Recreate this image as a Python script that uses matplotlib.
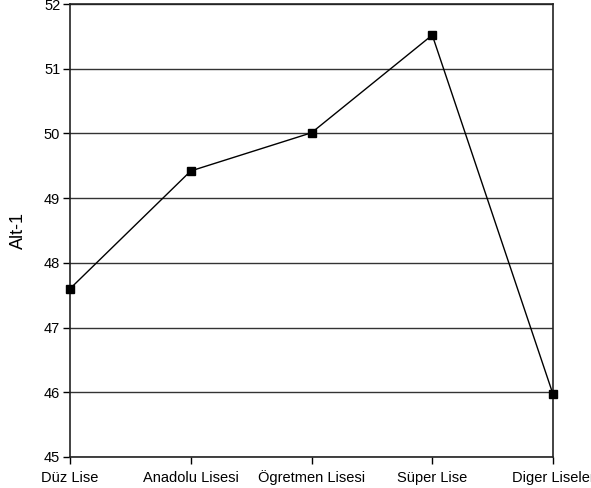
import matplotlib
matplotlib.use("Agg")
import matplotlib.pyplot as plt

categories = ["Düz Lise", "Anadolu Lisesi", "Ögretmen Lisesi", "Süper Lise", "Diger Liseler"]
values = [47.6, 49.42, 50.01, 51.52, 45.97]
yticks = [45, 46, 47, 48, 49, 50, 51, 52]

plt.rcParams["font.family"] = ["Liberation Sans", "DejaVu Sans"]

fig = plt.figure(figsize=(5.91, 4.88), dpi=100)
ax = fig.add_axes([70 / 591, (488 - 457) / 488, (553 - 70) / 591, (457 - 4) / 488])

x = list(range(len(categories)))
ax.plot(x, values, color="black", linewidth=1.0, marker="s", markersize=5.5,
        markerfacecolor="black", markeredgecolor="black", zorder=3, clip_on=False)

ax.set_xlim(0, len(categories) - 1)
ax.set_ylim(45, 52)
ax.set_yticks(yticks)
ax.set_xticks(x)
ax.set_xticklabels(categories, fontsize=10.5, va="baseline")
ax.tick_params(axis="y", labelsize=10.5, direction="out", length=5, width=1, pad=2)
ax.tick_params(axis="x", direction="out", length=5, width=1, pad=13)
ax.grid(axis="y", color="#333333", linewidth=1.0)
ax.set_axisbelow(True)
for s in ax.spines.values():
    s.set_color("#222222")
    s.set_linewidth(1.2)
ax.set_ylabel("Alt-1", fontsize=13, labelpad=12)

fig.savefig("out.png", dpi=100)
